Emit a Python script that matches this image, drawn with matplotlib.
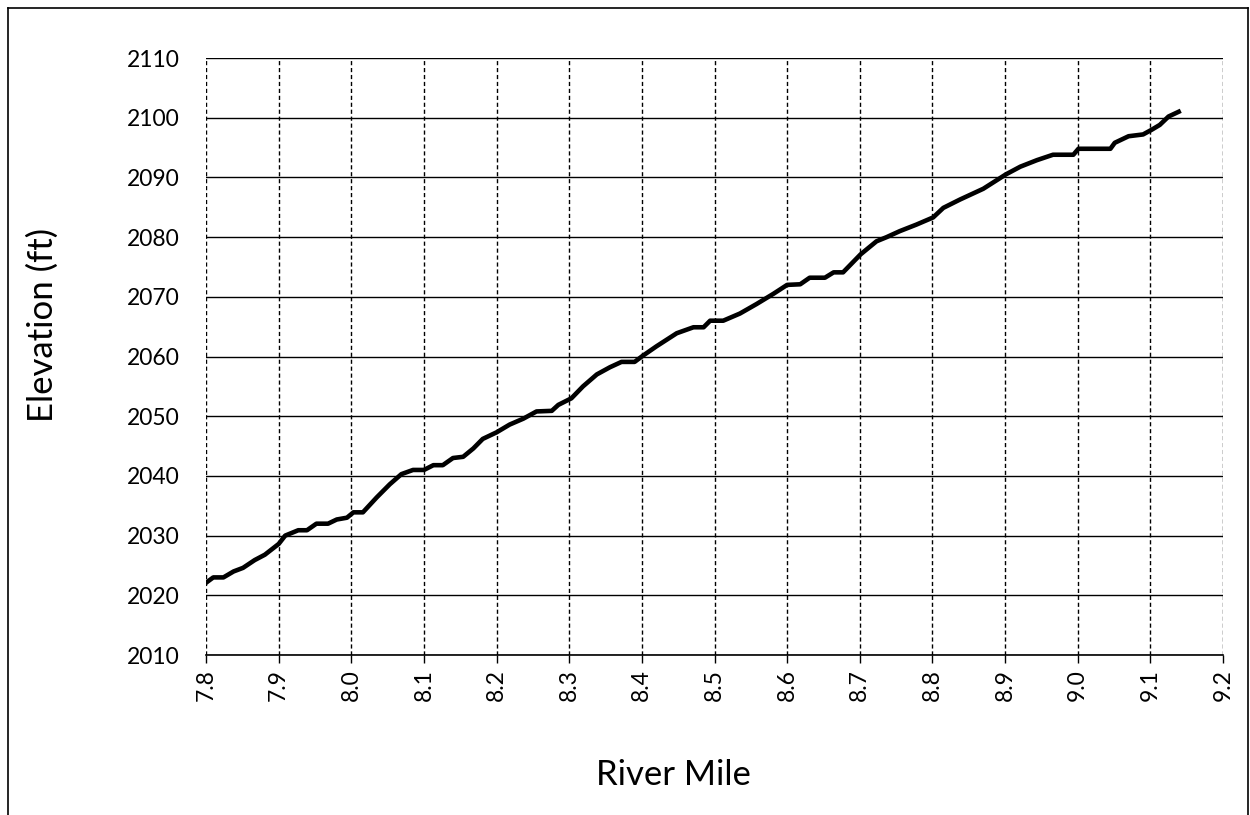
from matplotlib import pyplot as plt
from matplotlib.lines import Line2D
from matplotlib.ticker import MultipleLocator, FormatStrFormatter

# River profile
river_mile = [7.800, 7.810, 7.824, 7.838, 7.851, 7.867, 7.881, 7.900, 7.909, 7.927,
              7.939, 7.952, 7.968, 7.980, 7.994, 8.003, 8.016, 8.035, 8.053, 8.069,
              8.085, 8.100, 8.113, 8.126, 8.140, 8.154, 8.168, 8.181, 8.200, 8.218,
              8.237, 8.255, 8.276, 8.285, 8.303, 8.319, 8.338, 8.356, 8.372, 8.390,
              8.401, 8.420, 8.448, 8.471, 8.485, 8.494, 8.512, 8.535, 8.558, 8.581,
              8.600, 8.618, 8.631, 8.652, 8.664, 8.677, 8.701, 8.723, 8.737, 8.755,
              8.778, 8.801, 8.815, 8.838, 8.870, 8.901, 8.921, 8.944, 8.966, 8.994,
              9.001, 9.045, 9.051, 9.070, 9.090, 9.102, 9.113, 9.125, 9.139]
elevation = [2022.1, 2023.0, 2023.0, 2024.0, 2024.6, 2025.9, 2026.8, 2028.6, 2030.0, 2030.9,
             2030.9, 2032.0, 2032.0, 2032.7, 2033.0, 2033.9, 2033.9, 2036.4, 2038.6, 2040.3,
             2041.0, 2041.0, 2041.8, 2041.8, 2043.0, 2043.2, 2044.6, 2046.2, 2047.3, 2048.6,
             2049.6, 2050.8, 2050.9, 2051.9, 2053.0, 2055.0, 2057.0, 2058.2, 2059.1, 2059.1,
             2060.1, 2061.7, 2063.9, 2064.9, 2064.9, 2066.0, 2066.0, 2067.2, 2068.8, 2070.5,
             2072.0, 2072.1, 2073.2, 2073.2, 2074.1, 2074.1, 2077.1, 2079.3, 2080.0, 2081.0,
             2082.1, 2083.3, 2084.9, 2086.3, 2088.1, 2090.5, 2091.8, 2092.9, 2093.8, 2093.8,
             2094.8, 2094.8, 2095.8, 2096.9, 2097.2, 2098.0, 2098.8, 2100.2, 2101.0]

plt.rcParams["font.family"] = ["Lato", "DejaVu Sans"]

fig = plt.figure(figsize=(12.5, 8.15), dpi=100)
ax = fig.add_axes([0.1648, 0.1963, 0.8136, 0.7325])

ax.plot(river_mile, elevation, color="black", linewidth=3.3, zorder=3)

ax.set_xlim(7.8, 9.2)
ax.set_ylim(2010, 2110)
ax.xaxis.set_major_locator(MultipleLocator(0.1))
ax.xaxis.set_major_formatter(FormatStrFormatter("%.1f"))
ax.yaxis.set_major_locator(MultipleLocator(10))

ax.grid(axis="y", color="black", linestyle="-", linewidth=1.0)
ax.grid(axis="x", color="black", linestyle=(0, (3, 2)), linewidth=1.0)
ax.set_axisbelow(True)

for side in ["left", "right", "top"]:
    ax.spines[side].set_visible(False)
ax.spines["bottom"].set_linewidth(1.2)

ax.tick_params(axis="y", length=0, labelsize=16.5, pad=19)
ax.tick_params(axis="x", length=6, width=1, labelsize=16.5, labelrotation=90, pad=4)

# axis titles sit off-centre in the reference, so place them on the figure
fig.text(0.539, 0.049, "River Mile", fontsize=25, ha="center", va="center")
fig.text(0.034, 0.601, "Elevation (ft)", fontsize=25, rotation=90, ha="center", va="center")

# outer frame of the picture
fig.add_artist(Line2D([0.0064, 0.0064], [-0.01, 0.990], color="black", linewidth=1.2, transform=fig.transFigure))
fig.add_artist(Line2D([0.0064, 0.9984], [0.990, 0.990], color="black", linewidth=1.2, transform=fig.transFigure))
fig.add_artist(Line2D([0.9984, 0.9984], [-0.01, 0.990], color="black", linewidth=1.2, transform=fig.transFigure))

fig.savefig("out.png", dpi=100)
